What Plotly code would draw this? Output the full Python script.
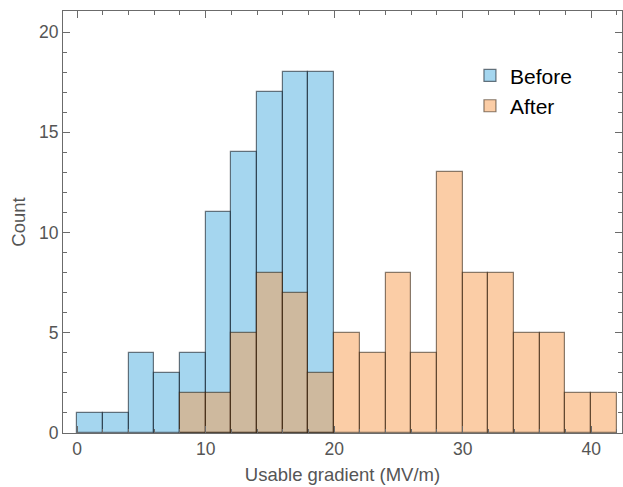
import plotly.graph_objects as go

bin_left = [0, 2, 4, 6, 8, 10, 12, 14, 16, 18, 20, 22, 24, 26, 28, 30, 32, 34, 36, 38, 40]
bin_width = 2
before_counts = [1, 1, 4, 3, 4, 11, 14, 17, 18, 18, 0, 0, 0, 0, 0, 0, 0, 0, 0, 0, 0]
after_counts = [0, 0, 0, 0, 2, 2, 5, 8, 7, 3, 5, 4, 8, 4, 13, 8, 8, 5, 5, 2, 2]
x_ticks = [0, 10, 20, 30, 40]
y_ticks = [0, 5, 10, 15, 20]

centers = [b + bin_width / 2 for b in bin_left]

def keep(counts):
    xs, ys = [], []
    for c, v in zip(centers, counts):
        if v > 0:
            xs.append(c)
            ys.append(v)
    return xs, ys

bx, by = keep(before_counts)
ax, ay = keep(after_counts)

fig = go.Figure()
fig.add_trace(go.Bar(
    x=bx, y=by, width=bin_width, name="Before",
    marker=dict(color="rgba(75,173,223,0.5)", line=dict(color="rgba(20,30,40,0.6)", width=1.2)),
))
fig.add_trace(go.Bar(
    x=ax, y=ay, width=bin_width, name="After",
    marker=dict(color="rgba(247,155,77,0.5)", line=dict(color="rgba(40,25,10,0.55)", width=1.2)),
))

axis_common = dict(
    showgrid=False, zeroline=False, showline=True, linecolor="#6b6b6b", linewidth=1,
    mirror="ticks", ticks="inside", tickcolor="#6b6b6b", tickwidth=1, ticklen=7,
    tickfont=dict(family="Liberation Sans, Arial", size=17.5, color="#555555"),
)

fig.update_layout(
    width=623, height=487,
    margin=dict(l=63, r=1, t=11, b=54),
    paper_bgcolor="white", plot_bgcolor="white",
    barmode="overlay", bargap=0,
    font=dict(family="Liberation Sans, Arial", color="#555555"),
    xaxis=dict(
        range=[-1.1, 42.4], tickvals=x_ticks,
        minor=dict(dtick=2, tick0=0, ticks="inside", ticklen=4, tickcolor="#6b6b6b"),
        title=dict(text="Usable gradient (MV/m)", font=dict(size=18.5, color="#555555"), standoff=10),
        **axis_common,
    ),
    yaxis=dict(
        range=[0, 21.05], tickvals=y_ticks,
        minor=dict(dtick=1, tick0=0, ticks="inside", ticklen=4, tickcolor="#6b6b6b"),
        title=dict(text="Count", font=dict(size=18.5, color="#555555"), standoff=8),
        **axis_common,
    ),
    legend=dict(
        x=0.728, y=0.895, xanchor="left", yanchor="top",
        font=dict(family="Liberation Sans, Arial", size=21, color="black"),
        bgcolor="rgba(0,0,0,0)", itemwidth=30,
    ),
)

fig.write_html("out.html")
